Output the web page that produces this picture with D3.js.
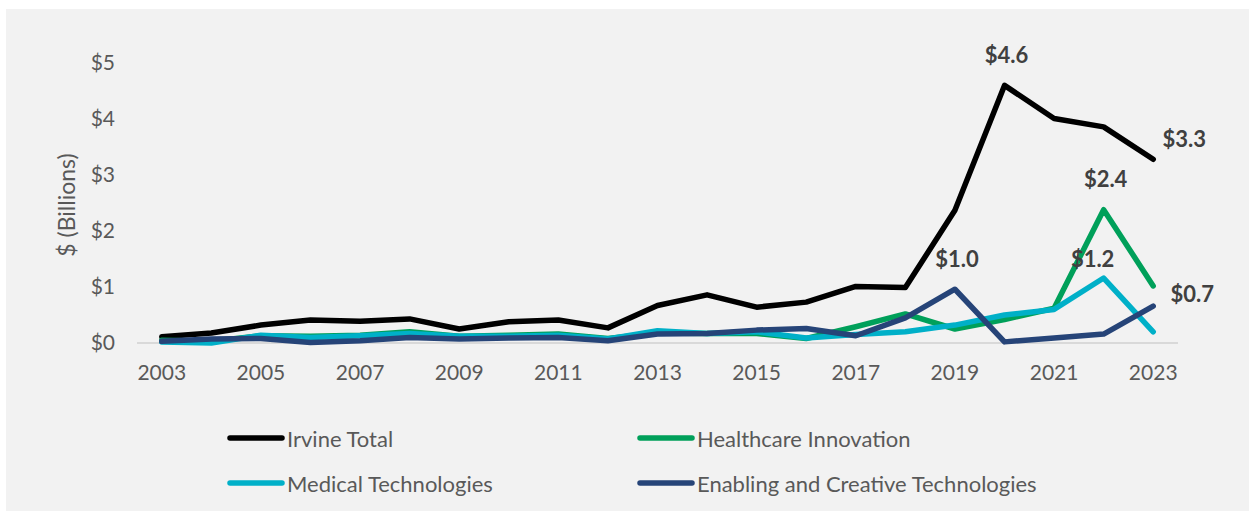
<!DOCTYPE html>
<html>
<head>
<meta charset="utf-8">
<script src="https://cdn.jsdelivr.net/npm/d3@7"></script>
<style>
  html, body { margin: 0; padding: 0; background: #ffffff; }
  svg { display: block; }
  text { font-family: "Lato", "Liberation Sans", sans-serif; }
</style>
</head>
<body>
<svg id="chart" width="1249" height="511"></svg>
<script>
// Annual funding, $ billions
const years = [2003, 2004, 2005, 2006, 2007, 2008, 2009, 2010, 2011, 2012, 2013,
               2014, 2015, 2016, 2017, 2018, 2019, 2020, 2021, 2022, 2023];
const irvineTotal = [0.11, 0.18, 0.32, 0.41, 0.39, 0.43, 0.25, 0.38, 0.41, 0.27, 0.67,
                     0.86, 0.64, 0.73, 1.01, 0.99, 2.37, 4.6, 4.01, 3.86, 3.28];
const healthcareInnovation = [0.05, 0.03, 0.13, 0.12, 0.14, 0.20, 0.12, 0.14, 0.16, 0.08, 0.18,
                              0.17, 0.17, 0.08, 0.29, 0.52, 0.25, 0.42, 0.62, 2.38, 1.02];
const medicalTechnologies = [0.02, 0.00, 0.14, 0.10, 0.13, 0.17, 0.12, 0.12, 0.14, 0.07, 0.22,
                             0.17, 0.20, 0.09, 0.15, 0.20, 0.32, 0.50, 0.60, 1.16, 0.20];
const enablingCreative = [0.03, 0.07, 0.08, 0.01, 0.04, 0.10, 0.07, 0.09, 0.10, 0.04, 0.16,
                          0.17, 0.23, 0.26, 0.13, 0.45, 0.96, 0.02, 0.09, 0.16, 0.66];
const seriesNames = ["Irvine Total", "Healthcare Innovation", "Medical Technologies",
                     "Enabling and Creative Technologies"];
const yTicks = [0, 1, 2, 3, 4, 5];
const xTickYears = [2003, 2005, 2007, 2009, 2011, 2013, 2015, 2017, 2019, 2021, 2023];
// Value callouts: series index, year, placement
const callouts = [
  [0, 2020, "above"], [0, 2023, "right"],
  [1, 2022, "above"], [2, 2022, "upleft"],
  [3, 2019, "above"], [3, 2023, "rightlow"]
];

const seriesValues = [irvineTotal, healthcareInnovation, medicalTechnologies, enablingCreative];
const colors = ["#000000", "#00a05a", "#00b0c8", "#264478"];
const FONT = "Lato, 'Liberation Sans', sans-serif";

const svg = d3.select("#chart");
svg.append("rect").attr("x", 6).attr("y", 9).attr("width", 1243).attr("height", 502)
   .attr("fill", "#f2f2f2");

const x = d3.scaleBand().domain(years).range([137, 1178]);
const xc = d => x(d) + x.bandwidth() / 2;
const y = d3.scaleLinear().domain([0, 5]).range([343, 63]);

// baseline
svg.append("line").attr("x1", 137).attr("x2", 1178)
   .attr("y1", y(0)).attr("y2", y(0))
   .attr("stroke", "#d9d9d9").attr("stroke-width", 2);

// y axis
const yAxis = svg.append("g").attr("transform", "translate(115,0)")
  .call(d3.axisLeft(y).tickValues(yTicks).tickFormat(d => "$" + d).tickSize(0).tickPadding(0));
yAxis.select(".domain").remove();
yAxis.selectAll("text").attr("font-size", 21).attr("fill", "#595959").attr("font-family", FONT);

// x axis
const xAxis = svg.append("g").attr("transform", "translate(0," + 365 + ")")
  .call(d3.axisBottom(x).tickValues(xTickYears).tickSize(0).tickPadding(0));
xAxis.select(".domain").remove();
xAxis.selectAll("text").attr("font-size", 21).attr("fill", "#595959").attr("font-family", FONT);

// y axis title
svg.append("text").attr("transform", "translate(75,205) rotate(-90)")
  .attr("text-anchor", "middle").attr("font-size", 23).attr("fill", "#595959")
  .text("$ (Billions)");

// lines
const line = d3.line().x((d, i) => xc(years[i])).y(d => y(d));
seriesValues.forEach((vals, k) => {
  svg.append("path").datum(vals).attr("d", line)
    .attr("fill", "none").attr("stroke", colors[k]).attr("stroke-width", 5.5)
    .attr("stroke-linejoin", "round").attr("stroke-linecap", "round");
});

// callout labels
const fmt = d3.format("$.1f");
const place = {
  above: [2, -31], right: [31, -21], upleft: [-11, -20], rightlow: [39, -13]
};
callouts.forEach(([k, yr, where]) => {
  const i = years.indexOf(yr);
  const v = seriesValues[k][i];
  const [dx, dy] = place[where];
  svg.append("text").attr("x", xc(yr) + dx).attr("y", y(v) + dy)
    .attr("text-anchor", "middle").attr("dominant-baseline", "central")
    .attr("font-size", 22).attr("font-weight", "bold").attr("fill", "#404040")
    .text(fmt(v));
});

// legend
const legendPos = [[228, 438], [638, 438], [228, 483], [638, 483]];
seriesNames.forEach((name, k) => {
  const [lx, ly] = legendPos[k];
  svg.append("line").attr("x1", lx + 2).attr("x2", lx + 54).attr("y1", ly).attr("y2", ly)
    .attr("stroke", colors[k]).attr("stroke-width", 5.5).attr("stroke-linecap", "round");
  svg.append("text").attr("x", lx + 59).attr("y", ly).attr("dominant-baseline", "central")
    .attr("font-size", 22).attr("fill", "#595959").text(name);
});
</script>
</body>
</html>
